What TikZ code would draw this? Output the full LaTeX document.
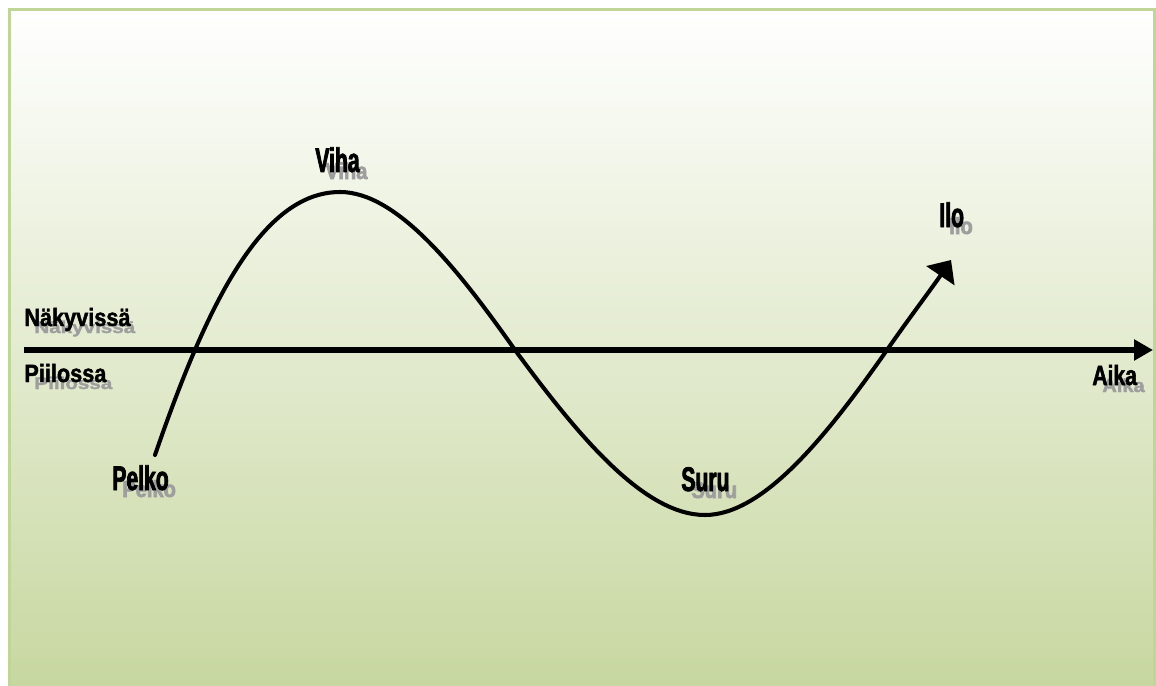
\documentclass[tikz,border=0pt]{standalone}
\usepackage{fontspec}
\setmainfont{Liberation Sans}
\newfontfamily\wavefont[FakeStretch=0.62,FakeBold=2.2]{Liberation Sans Bold}
\newfontfamily\sidefont[FakeStretch=0.87,FakeBold=1.6]{Liberation Sans Bold}
\newfontfamily\timefont[FakeStretch=0.76,FakeBold=1.8]{Liberation Sans Bold}
\usetikzlibrary{arrows.meta}
\definecolor{frameGreen}{RGB}{192,213,152}
\definecolor{bgGreen}{RGB}{199,215,160}
\definecolor{shadowGray}{RGB}{158,158,158}

\begin{document}
\begin{tikzpicture}[x=0.02cm,y=-0.02cm,
        lbl/.style={anchor=base west,inner sep=0pt,text=black},
        shd/.style={lbl,text=shadowGray},
        wavetxt/.style={font=\fontsize{19.4}{21}\wavefont},
        sidetxt/.style={font=\fontsize{14.2}{16}\sidefont},
        timetxt/.style={font=\fontsize{15.8}{17}\timefont},
        wave/.style={line width=2.3pt,line cap=round,
                     -{Triangle[length=10.8pt,width=19pt]}}]
  \useasboundingbox (0,0) rectangle (1156,686);
  \fill[white] (0,0) rectangle (1156,686);
  % background panel
  \shade[top color=white,bottom color=bgGreen] (9.5,9.5) rectangle (1154.5,690);
  \draw[frameGreen,line width=1.7pt] (9.5,9.5) rectangle (1154.5,690);
  % labels with their shadows
  \foreach \n/\s/\x/\y/\t in {viha/wavetxt/315/172/Viha,
                              ilo/wavetxt/939/227/Ilo,
                              pelko/wavetxt/112/490/Pelko,
                              suru/wavetxt/681/491/Suru,
                              nak/sidetxt/24/326/Näkyvissä,
                              pii/sidetxt/24/382/Piilossa,
                              aika/timetxt/1092/385/Aika}{
    \node[shd,\s] (\n-s) at (\x+10,\y+7) {\scalebox{0.95}[0.68]{\t}};
    \node[lbl,\s] (\n) at (\x,\y) {\t};
  }
  % time axis
  \coordinate (axL) at (24,350);
  \coordinate (axR) at (1153,350);
  \draw[line width=3.3pt,-{Triangle[length=10.8pt,width=11.5pt]}] (axL) -- (axR);
  % the wave
  \coordinate (pelkoEnd) at (155,455);
  \coordinate (vihaTop) at (340,192);
  \coordinate (cross2) at (515,350);
  \coordinate (suruLow) at (705,515);
  \coordinate (cross3) at (887,350);
  \coordinate (iloTip) at (951,260);
  \draw[wave] (pelkoEnd) .. controls (205,310) and (260,192) .. (vihaTop)
    .. controls (397,192) and (458,269) .. (cross2)
    .. controls (577,434) and (643,515) .. (suruLow)
    .. controls (764,515) and (828,434) .. (cross3)
    .. controls (907,321) and (932,288) .. (iloTip);
\end{tikzpicture}
\end{document}
